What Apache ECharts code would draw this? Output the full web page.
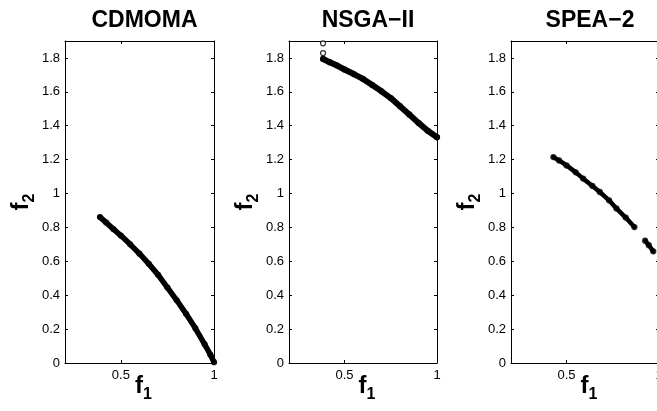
<!DOCTYPE html>
<html>
<head>
<meta charset="utf-8">
<script src="https://cdn.jsdelivr.net/npm/echarts@6/dist/echarts.min.js"></script>
<style>
html,body{margin:0;padding:0;background:#fff;}
#c{width:657px;height:411px;}
</style>
</head>
<body>
<div id="c"></div>
<script>
// ---- data ----
const titleText = ['CDMOMA', 'NSGA\u2212II', 'SPEA\u22122'];
const xTicks = [0.5, 1];
const yTicks = [0, 0.2, 0.4, 0.6, 0.8, 1, 1.2, 1.4, 1.6, 1.8];

const cdmomaF1 = [0.388, 0.42, 0.46, 0.50, 0.55, 0.60, 0.65, 0.70, 0.75, 0.80, 0.85, 0.90, 0.95, 0.98, 1.0];
const cdmomaF2 = [0.861, 0.83, 0.79, 0.752, 0.70, 0.645, 0.585, 0.52, 0.445, 0.37, 0.29, 0.205, 0.11, 0.05, 0.005];

const nsgaF1 = [0.384, 0.42, 0.46, 0.50, 0.55, 0.60, 0.65, 0.70, 0.75, 0.80, 0.85, 0.90, 0.95, 1.0];
const nsgaF2 = [1.794, 1.775, 1.755, 1.732, 1.705, 1.676, 1.64, 1.603, 1.563, 1.515, 1.467, 1.417, 1.37, 1.332];
const nsgaOutF1 = [0.384, 0.384];
const nsgaOutF2 = [1.829, 1.886];

const speaAF1 = [0.429, 0.46, 0.50, 0.55, 0.59, 0.64, 0.68, 0.73, 0.77, 0.82, 0.867];
const speaAF2 = [1.215, 1.195, 1.166, 1.125, 1.088, 1.045, 1.009, 0.96, 0.912, 0.858, 0.802];
const speaBF1 = [0.925, 0.945, 0.969];
const speaBF2 = [0.722, 0.695, 0.659];

const zip = (a, b) => a.map((v, i) => [v, b[i]]);

const FONT = 'Liberation Sans, Arial, Helvetica, sans-serif';
const grids = [
  {left: 65, top: 41, width: 149, height: 322, outerBoundsMode: 'none', containLabel: false},
  {left: 289, top: 41, width: 148, height: 322, outerBoundsMode: 'none', containLabel: false},
  {left: 511, top: 41, width: 148, height: 322, outerBoundsMode: 'none', containLabel: false}
];

const nameRich = {
  f: {fontFamily: FONT, fontSize: 24, fontWeight: 'bold', color: '#000', lineHeight: 26},
  s: {fontFamily: FONT, fontSize: 16, fontWeight: 'bold', color: '#000', lineHeight: 26, padding: [17, 0, 0, 0]}
};

const xAxes = [], yAxes = [], series = [], titleOpts = [];
grids.forEach((g, i) => {
  titleOpts.push({
    text: titleText[i], left: g.left + g.width / 2, top: 4, textAlign: 'center',
    textStyle: {fontFamily: FONT, fontSize: 23, fontWeight: 'bold', color: '#000'}
  });
  const common = {
    type: 'value', gridIndex: i, splitLine: {show: false},
    axisLine: {show: true, onZero: false, lineStyle: {color: '#000', width: 1}}
  };
  xAxes.push(Object.assign({}, common, {
    position: 'bottom', min: 0.2, max: 1,
    axisTick: {show: true, inside: true, length: 3, customValues: xTicks, lineStyle: {color: '#000'}},
    axisLabel: {show: true, customValues: xTicks, margin: 6, color: '#000', fontFamily: FONT, fontSize: 13},
    name: '{f|f}{s|1}', nameLocation: 'middle', nameGap: 10, nameMoveOverlap: false,
    nameTextStyle: {rich: nameRich, padding: [0, 0, 0, 8]}
  }));
  xAxes.push(Object.assign({}, common, {
    position: 'top', min: 0.2, max: 1,
    axisTick: {show: true, inside: true, length: 3, customValues: xTicks, lineStyle: {color: '#000'}},
    axisLabel: {show: false}
  }));
  yAxes.push(Object.assign({}, common, {
    position: 'left', min: 0, max: 1.9,
    axisTick: {show: true, inside: true, length: 3, customValues: yTicks, lineStyle: {color: '#000'}},
    axisLabel: {show: true, customValues: yTicks, margin: 5, color: '#000', fontFamily: FONT, fontSize: 13},
    name: '{f|f}{s|2}', nameLocation: 'middle', nameGap: 31, nameRotate: 90,
    nameTextStyle: {rich: nameRich}
  }));
  yAxes.push(Object.assign({}, common, {
    position: 'right', min: 0, max: 1.9,
    axisTick: {show: true, inside: true, length: 3, customValues: yTicks, lineStyle: {color: '#000'}},
    axisLabel: {show: false}
  }));
});

function curve(xi, yi, data, w) {
  series.push({
    type: 'line', xAxisIndex: xi, yAxisIndex: yi, data: data,
    showSymbol: false, symbol: 'none', silent: true, animation: false,
    lineStyle: {color: '#000', width: w, cap: 'round', join: 'round'}
  });
  series.push({
    type: 'scatter', xAxisIndex: xi, yAxisIndex: yi, data: data, animation: false,
    symbol: 'circle', symbolSize: 5,
    itemStyle: {color: '#fff', borderColor: '#000', borderWidth: 1.3}
  });
}
function pts(xi, yi, data) {
  series.push({
    type: 'scatter', xAxisIndex: xi, yAxisIndex: yi, data: data, animation: false,
    symbol: 'circle', symbolSize: 5,
    itemStyle: {color: '#fff', borderColor: '#000', borderWidth: 1.2}
  });
}

curve(0, 0, zip(cdmomaF1, cdmomaF2), 5.5);
curve(2, 2, zip(nsgaF1, nsgaF2), 6);
pts(2, 2, zip(nsgaOutF1, nsgaOutF2));
curve(4, 4, zip(speaAF1, speaAF2), 4.5);
curve(4, 4, zip(speaBF1, speaBF2), 4.5);

const chart = echarts.init(document.getElementById('c'), null, {renderer: 'canvas'});
chart.setOption({
  animation: false,
  backgroundColor: '#fff',
  title: titleOpts,
  grid: grids,
  xAxis: xAxes,
  yAxis: yAxes,
  series: series
});
</script>
</body>
</html>
